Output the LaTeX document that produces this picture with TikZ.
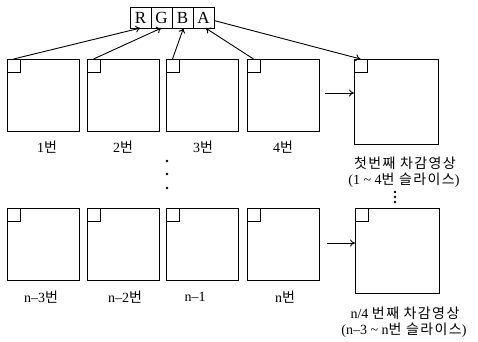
\documentclass[tikz,border=0pt]{standalone}
\usepackage{fontspec}
\setmainfont{Liberation Serif}
\newfontfamily\kr[LetterSpace=10]{Noto Sans CJK KR}
\usetikzlibrary{arrows.meta,calc}
\begin{document}
\begin{tikzpicture}[x=1pt,y=-1pt,
  every node/.style={inner sep=0pt,outer sep=0pt},
  big/.style={draw,line width=0.9pt,minimum width=72pt,minimum height=72pt,anchor=north west},
  bigr/.style={draw,line width=0.9pt,minimum width=84pt,minimum height=85pt,anchor=north west},
  corner/.style={draw,line width=0.8pt,minimum width=13pt,minimum height=13pt,anchor=north west},
  chan/.style={draw,line width=0.9pt,minimum width=21pt,minimum height=21pt,anchor=north west,font=\fontsize{17}{17}\selectfont},
  lbl/.style={font=\fontsize{14}{14}\selectfont},
  arr/.style={line width=0.9pt,-{To[length=5pt,width=7pt]}},
  dot/.style={fill=black,circle,minimum size=2.8pt}
]
\useasboundingbox (0,0) rectangle (478,341);
% RGBA
\node[chan] (R) at (130,7) {R};
\node[chan] (G) at (151,7) {G};
\node[chan] (B) at (172,7) {B};
\node[chan] (A) at (193,7) {A};
% top row
\node[big] (s1) at (7,59) {};
\node[big] (s2) at (87,59) {};
\node[big] (s3) at (166,59) {};
\node[big] (s4) at (247,59) {};
\node[bigr] (s5) at (354,59) {};
\node[corner] (c1) at (s1.north west) {};
\node[corner] (c2) at (s2.north west) {};
\node[corner] (c3) at (s3.north west) {};
\node[corner] (c4) at (s4.north west) {};
\node[corner] (c5) at (s5.north west) {};
% bottom row
\node[big] (t1) at (7,208) {};
\node[big] (t2) at (87,208) {};
\node[big] (t3) at (166,208) {};
\node[big] (t4) at (247,208) {};
\node[bigr] (t5) at (355,208) {};
\node[corner] (d1) at (t1.north west) {};
\node[corner] (d2) at (t2.north west) {};
\node[corner] (d3) at (t3.north west) {};
\node[corner] (d4) at (t4.north west) {};
\node[corner] (d5) at (t5.north west) {};
% arrows to RGBA
\draw[arr] (c1.north) -- (R.south);
\draw[arr] (c2.north) -- (G.south);
\draw[arr] (c3.north) -- ([xshift=1pt]B.south);
\draw[arr] (c4.north) -- ([xshift=2pt]A.south);
\draw[arr] ([yshift=-3pt]A.east) -- (c5.north);
% horizontal arrows
\coordinate (h1) at (325,93);
\coordinate (h2) at (327,243);
\draw[arr] (h1) -- (h1 -| s5.west);
\draw[arr] (h2) -- (h2 -| t5.west);
% labels
\node[lbl] (l1) at (47,147) {1{\kr 번}};
\node[lbl] (l2) at (123,147) {2{\kr 번}};
\node[lbl] (l3) at (203,147) {3{\kr 번}};
\node[lbl] (l4) at (283,147) {4{\kr 번}};
\node[lbl] (m1) at (41,297) {n\textendash3{\kr 번}};
\node[lbl] (m2) at (125,297) {n\textendash2{\kr 번}};
\node[lbl] (m3) at (195,297) {n\textendash1};
\node[lbl] (m4) at (285,297) {n{\kr 번}};
\node[lbl] (r1) at (405,163) {\kr 첫번째 차감영상};
\node[lbl] (r2) at (404,180) {(1 \textasciitilde\ 4{\kr 번 슬라이스})};
\node[lbl] (r3) at (405,313) {n/4 {\kr 번째 차감영상}};
\node[lbl] (r4) at (404,330) {(n\textendash3 \textasciitilde\ n{\kr 번 슬라이스})};
% dots
\node[dot] (p1) at (167,161) {};
\node[dot] (p2) at (167,174) {};
\node[dot] (p3) at (167,188) {};
\node[dot] (q1) at (395,192) {};
\node[dot] (q2) at (395,197) {};
\node[dot] (q3) at (395,202) {};
\end{tikzpicture}
\end{document}
